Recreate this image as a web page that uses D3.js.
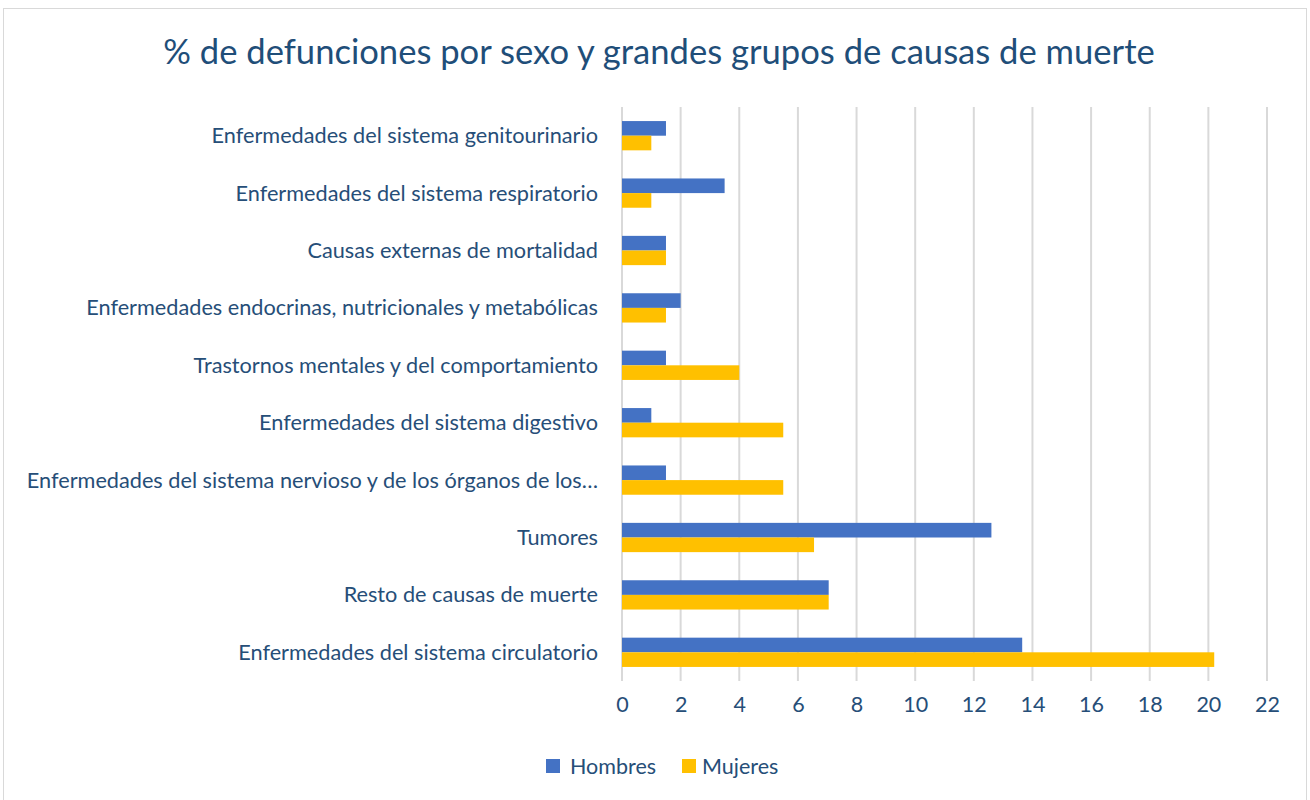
<!DOCTYPE html>
<html>
<head>
<meta charset="utf-8">
<title>defunciones</title>
<script src="https://d3js.org/d3.v7.min.js"></script>
<style>
    body{
        margin:0;
        background:#fff;
        font-family:Lato, "Open Sans", sans-serif;
    }
</style>
</head>
<body>
<div id="chart"></div>
<script>
// categories bottom to top as in the picture
var categories = [
    "Enfermedades del sistema circulatorio",
    "Resto de causas de muerte",
    "Tumores",
    "Enfermedades del sistema nervioso y de los órganos de los…",
    "Enfermedades del sistema digestivo",
    "Trastornos mentales y del comportamiento",
    "Enfermedades endocrinas, nutricionales y metabólicas",
    "Causas externas de mortalidad",
    "Enfermedades del sistema respiratorio",
    "Enfermedades del sistema genitourinario"
]
var hombres = [13.65, 7.05, 12.6, 1.5, 1.0, 1.5, 2.0, 1.5, 3.5, 1.5]
var mujeres = [20.2, 7.05, 6.55, 5.5, 5.5, 4.0, 1.5, 1.5, 1.0, 1.0]
var series = ["Hombres", "Mujeres"]
var xTicks = [0, 2, 4, 6, 8, 10, 12, 14, 16, 18, 20, 22]

var w = 1310
var h = 800
var textColor = "#264e78"
var colors = {"Hombres": "#4472c4", "Mujeres": "#ffc000"}

var svg = d3.select("#chart").append("svg")
    .attr("width", w)
    .attr("height", h)

// outer frame
svg.append("rect")
    .attr("x", 3.5).attr("y", 8.5)
    .attr("width", 1303).attr("height", 800)
    .attr("fill", "#fff")
    .attr("stroke", "#d9d9d9")
    .attr("stroke-width", 1)

svg.append("text").text("% de defunciones por sexo y grandes grupos de causas de muerte")
    .attr("x", 659)
    .attr("y", 64)
    .attr("text-anchor", "middle")
    .attr("fill", "#1f4e79")
    .style("font-size", "34.6px")

var xScale = d3.scaleLinear().domain([0, 22]).range([622, 1267])
var yScale = d3.scaleBand().domain(categories.slice().reverse()).range([107, 681])
    .paddingInner(0.49).paddingOuter(0.245)
var subScale = d3.scaleBand().domain(series).range([0, yScale.bandwidth()])

// grid
svg.append("g").selectAll("line")
    .data(xTicks)
    .enter()
    .append("line")
    .attr("x1", function(d){ return xScale(d) })
    .attr("x2", function(d){ return xScale(d) })
    .attr("y1", 107)
    .attr("y2", 681)
    .attr("stroke", "#d9d9d9")
    .attr("stroke-width", 2)

var rows = categories.map(function(c, i){
    return {cat: c, vals: [{s: "Hombres", v: hombres[i]}, {s: "Mujeres", v: mujeres[i]}]}
})

var groups = svg.append("g").selectAll("g")
    .data(rows)
    .enter()
    .append("g")
    .attr("transform", function(d){ return "translate(0," + yScale(d.cat) + ")" })

groups.selectAll("rect")
    .data(function(d){ return d.vals })
    .enter()
    .append("rect")
    .attr("x", xScale(0))
    .attr("y", function(d){ return subScale(d.s) })
    .attr("width", function(d){ return xScale(d.v) - xScale(0) })
    .attr("height", subScale.bandwidth())
    .attr("fill", function(d){ return colors[d.s] })

// category labels
svg.append("g").selectAll("text")
    .data(categories)
    .enter()
    .append("text")
    .text(function(d){ return d })
    .attr("x", 598)
    .attr("y", function(d){ return yScale(d) + yScale.bandwidth() / 2 + 7.5 })
    .attr("text-anchor", "end")
    .attr("fill", textColor)
    .style("font-size", "21.7px")

// x tick labels
var xAxis = d3.axisBottom(xScale).tickValues(xTicks).tickSize(0).tickPadding(0)
var ax = svg.append("g")
    .attr("class", "x axis")
    .attr("transform", "translate(0,697)")
    .call(xAxis)
ax.select(".domain").remove()
ax.selectAll("text")
    .attr("fill", textColor)
    .style("font-size", "21.5px")
    .style("font-family", "Lato, 'Open Sans', sans-serif")

// legend
var legendX = [546, 682]
var legendTextX = [24, 20]
var legend = svg.append("g").selectAll("g")
    .data(series)
    .enter()
    .append("g")
    .attr("transform", function(d, i){ return "translate(" + legendX[i] + ",759)" })
legend.append("rect")
    .attr("width", 14).attr("height", 14)
    .attr("fill", function(d){ return colors[d] })
legend.append("text")
    .text(function(d){ return d })
    .attr("x", function(d, i){ return legendTextX[i] })
    .attr("y", 14.5)
    .attr("fill", textColor)
    .style("font-size", "21.5px")
</script>
</body>
</html>
